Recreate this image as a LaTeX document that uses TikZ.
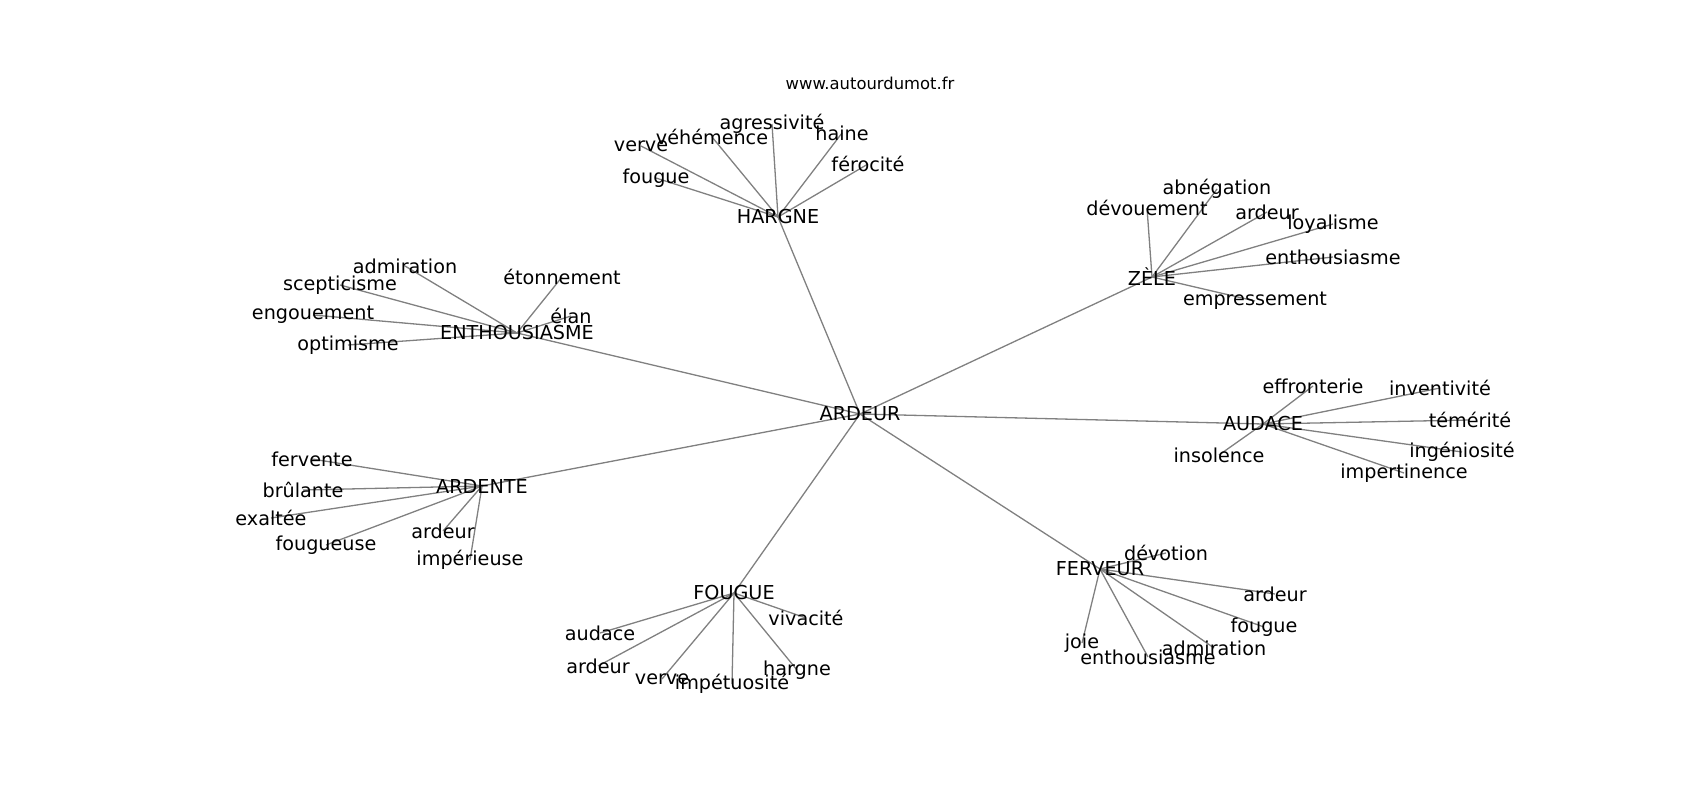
\documentclass[tikz,border=0pt]{standalone}
\usepackage{fontspec}
\setmainfont{DejaVu Sans}
\usetikzlibrary{backgrounds}

\begin{document}
\begin{tikzpicture}[x=1pt,y=-1pt,
    word/.style={inner sep=0pt,font=\fontsize{19.2}{22}\selectfont},
    link/.style={draw=gray,line width=1.3pt}]
    \useasboundingbox (0,0) rectangle (1700,800);
    \node[inner sep=0pt,font=\fontsize{16.4}{19}\selectfont] (site) at (870,83) {www.autourdumot.fr};

    % centre and hubs
    \node[word] (ardeur) at (860,414) {ARDEUR};
    \foreach \h/\x/\y/\t in {hargne/778/217/HARGNE, zele/1152/277/ZÈLE,
        enth/517/333/ENTHOUSIASME, audace/1263/424/AUDACE,
        ardente/482/486/ARDENTE, fougue/734/593/FOUGUE, ferveur/1100/569/FERVEUR}{
        \node[word] (\h) at (\x,\y) {\t};
        \begin{pgfonlayer}{background}
            \draw[link] (ardeur.center) -- (\h.center);
        \end{pgfonlayer}
    }

    % leaves
    \foreach \h/\n/\x/\y/\t in {
        hargne/agr/772/124/agressivité, hargne/veh/712/137/véhémence,
        hargne/ver/641/146/verve, hargne/hai/842/133/haine,
        hargne/fer/868/164/férocité, hargne/fou/656/178/fougue,
        zele/abn/1217/189/abnégation, zele/dev/1147/208/dévouement,
        zele/ard/1267/212/ardeur, zele/loy/1333/224/loyalisme,
        zele/ent/1333/257/enthousiasme, zele/emp/1255/301/empressement,
        enth/adm/405/266/admiration, enth/eto/562/277/étonnement,
        enth/sce/340/285/scepticisme, enth/eng/313/315/engouement,
        enth/ela/571/316/élan, enth/opt/348/345/optimisme,
        audace/eff/1313/386/effronterie, audace/inv/1440/388/inventivité,
        audace/tem/1470/420/témérité, audace/ing/1462/452/ingéniosité,
        audace/imp/1404/473/impertinence, audace/ins/1219/455/insolence,
        ardente/fer/312/459/fervente, ardente/bru/303/490/brûlante,
        ardente/exa/271/518/exaltée, ardente/fou/326/545/fougueuse,
        ardente/ard/443/531/ardeur, ardente/imp/470/560/impérieuse,
        fougue/viv/806/618/vivacité, fougue/aud/600/633/audace,
        fougue/ard/598/666/ardeur, fougue/ver/662/679/verve,
        fougue/imp/732/684/impétuosité, fougue/har/797/670/hargne,
        ferveur/dev/1166/553/dévotion, ferveur/ard/1275/594/ardeur,
        ferveur/fou/1264/627/fougue, ferveur/adm/1214/648/admiration,
        ferveur/joi/1082/643/joie, ferveur/ent/1148/657/enthousiasme}{
        \node[word] (\h-\n) at (\x,\y) {\t};
        \begin{pgfonlayer}{background}
            \draw[link] (\h.center) -- (\h-\n.center);
        \end{pgfonlayer}
    }
\end{tikzpicture}
\end{document}
